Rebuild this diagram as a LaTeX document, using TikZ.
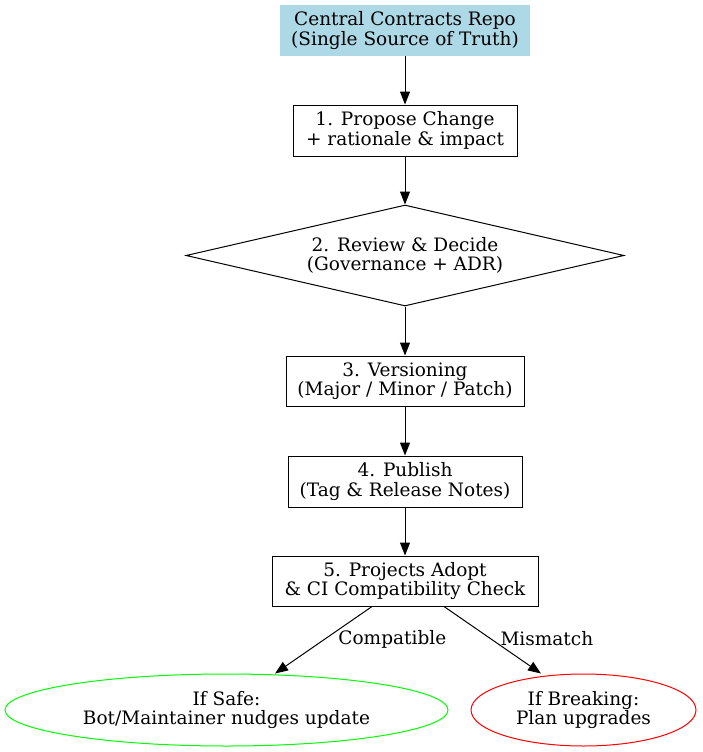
\documentclass[tikz,border=0pt]{standalone}
\usepackage{fontspec}
\setmainfont{DejaVu Serif}
\usetikzlibrary{shapes.geometric,arrows.meta}
\definecolor{repoblue}{HTML}{ADD8E6}
\begin{document}
\begin{tikzpicture}[x=1pt,y=-1pt,
  every node/.style={font=\fontsize{18.5}{19.5}\selectfont, align=center, inner sep=0pt},
  stepbox/.style={draw, line width=1pt, minimum height=51pt},
  flow/.style={-{Triangle[length=13pt,width=10pt]}, line width=1pt}]
\useasboundingbox (0,0) rectangle (702,752);
\node[fill=repoblue, minimum width=250pt, minimum height=51pt] (repo) at (405,30.5)
  {Central Contracts Repo\\(Single Source of Truth)};
\node[stepbox, minimum width=224pt] (propose) at (405,130.5)
  {1. Propose Change\\+ rationale \& impact};
\node[diamond, draw, line width=1pt, aspect=4.34, minimum width=438pt, minimum height=101pt] (review) at (405,255.5)
  {2. Review \& Decide\\(Governance + ADR)};
\node[stepbox, minimum width=238pt, minimum height=50pt] (version) at (405,381)
  {3. Versioning\\(Major / Minor / Patch)};
\node[stepbox, minimum width=234pt] (publish) at (405,481.5)
  {4. Publish\\(Tag \& Release Notes)};
\node[stepbox, minimum width=266pt, minimum height=50pt] (adopt) at (405,581)
  {5. Projects Adopt\\\& CI Compatibility Check};
\node[ellipse, draw=green, line width=1pt, minimum width=443pt, minimum height=72pt] (safe) at (226.5,710)
  {If Safe:\\Bot/Maintainer nudges update};
\node[ellipse, draw=red, line width=1pt, minimum width=225pt, minimum height=72pt] (breaking) at (583.5,710)
  {If Breaking:\\Plan upgrades};
\draw[flow] (repo) -- (propose);
\draw[flow] (propose) -- (review);
\draw[flow] (review) -- (version);
\draw[flow] (version) -- (publish);
\draw[flow] (publish) -- (adopt);
\draw[flow] (adopt.south -| 372,0) -- (safe.north -| 275,0)
  node[pos=0.485, anchor=west, xshift=13pt] {Compatible};
\draw[flow] (adopt.south -| 444,0) -- (breaking.north -| 541,0)
  node[pos=0.485, anchor=west, xshift=9pt] {Mismatch};
\end{tikzpicture}
\end{document}
